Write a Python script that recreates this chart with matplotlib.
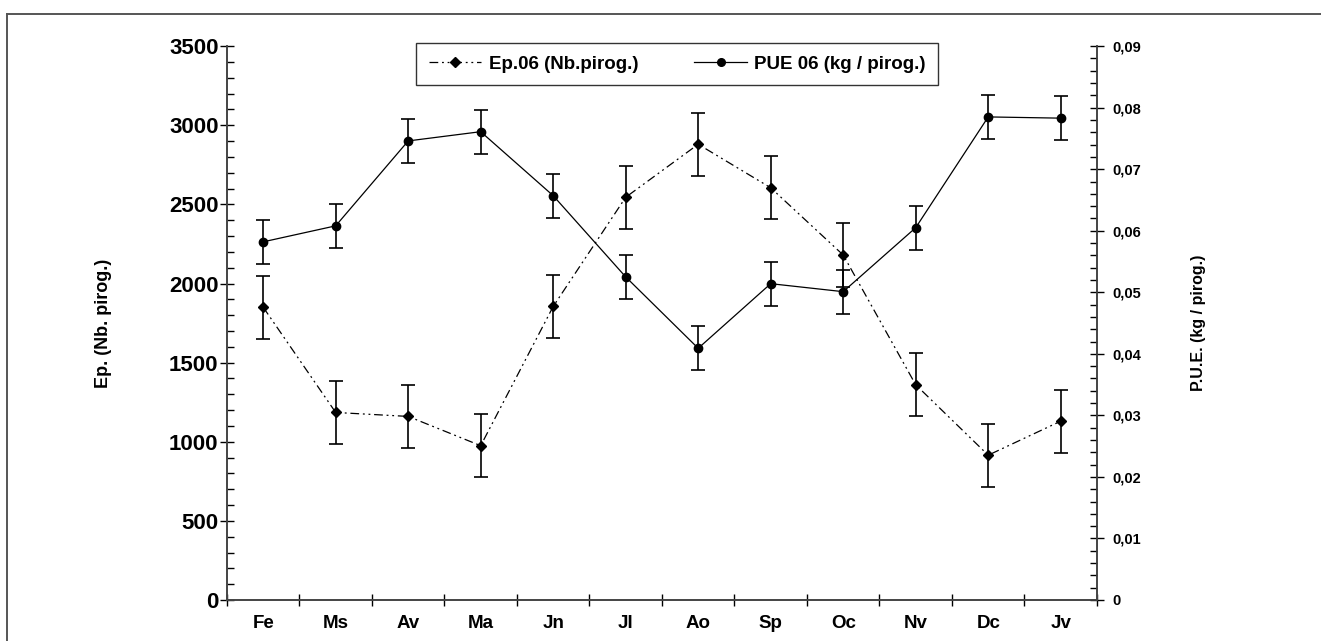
import matplotlib.pyplot as plt
import numpy as np
from matplotlib.ticker import MultipleLocator, FuncFormatter
from matplotlib.lines import Line2D

plt.rcParams.update({"font.family": "Liberation Sans", "font.weight": "bold"})

months = ["Fe", "Ms", "Av", "Ma", "Jn", "Jl", "Ao", "Sp", "Oc", "Nv", "Dc", "Jv"]
ep06 = [1850, 1185, 1160, 975, 1855, 2545, 2880, 2605, 2180, 1360, 915, 1130]
ep06_err = [200, 200, 200, 200, 200, 200, 200, 200, 200, 200, 200, 200]
pue06 = [0.0582, 0.0608, 0.0746, 0.0761, 0.0657, 0.0525, 0.0409, 0.0514, 0.0501, 0.0605, 0.0785, 0.0783]
pue06_err = [0.0036] * 12

x = np.arange(len(months))
ep_dash = (7, 3, 1.5, 3, 1.5, 3)

fig = plt.figure(figsize=(13.21, 6.41), dpi=100)
ax = fig.add_axes([0.1718, 0.064, 0.6586, 0.864])
ax2 = ax.twinx()

ax.errorbar(x, ep06, yerr=ep06_err, color="black", lw=0.9, dashes=ep_dash,
            marker="D", ms=5.5, capsize=5, elinewidth=1.2, capthick=1.2)
ax2.errorbar(x, pue06, yerr=pue06_err, color="black", lw=0.9, ls="-",
             marker="o", ms=6, capsize=5, elinewidth=1.2, capthick=1.2)

ax.set_xlim(-0.5, 11.5)
ax.set_ylim(0, 3500)
ax2.set_ylim(0, 0.09)

ax.set_xticks(np.arange(-0.5, 12, 1))
ax.set_xticklabels([])
ax.set_xticks(x, minor=True)
ax.set_xticklabels(months, minor=True, fontsize=13.5, fontweight="bold")
ax.tick_params(axis="x", which="major", direction="inout", length=8, width=1)
ax.tick_params(axis="x", which="minor", length=0, pad=11)

ax.yaxis.set_major_locator(MultipleLocator(500))
ax.yaxis.set_minor_locator(MultipleLocator(100))
ax.tick_params(axis="y", which="major", direction="inout", length=10, width=1, labelsize=16, pad=1)
ax.tick_params(axis="y", which="minor", direction="in", length=5, width=1)

ax2.yaxis.set_major_locator(MultipleLocator(0.01))
ax2.yaxis.set_minor_locator(MultipleLocator(0.002))
ax2.yaxis.set_major_formatter(FuncFormatter(lambda v, p: "0" if abs(v) < 1e-9 else ("%.2f" % v).replace(".", ",")))
ax2.tick_params(axis="y", which="major", direction="inout", length=10, width=1, labelsize=10.5, pad=6)
ax2.tick_params(axis="y", which="minor", direction="in", length=5, width=1)

for a in (ax, ax2):
    a.spines["top"].set_visible(False)
    for s in a.spines.values():
        s.set_color("#444444")
        s.set_linewidth(1.2)

ax.set_ylabel("Ep. (Nb. pirog.)", fontsize=13, fontweight="bold", labelpad=41)
ax2.set_ylabel("P.U.E. (kg / pirog.)", fontsize=11.5, fontweight="bold", labelpad=36)

handles = [
    Line2D([], [], color="black", lw=0.9, dashes=ep_dash, marker="D", ms=5),
    Line2D([], [], color="black", lw=0.9, ls="-", marker="o", ms=5.5),
]
labels = ["Ep.06 (Nb.pirog.)", "PUE 06 (kg / pirog.)"]
leg = ax.legend(handles, labels, loc="upper center", bbox_to_anchor=(0.5175, 1.022), ncol=2,
                frameon=True, fancybox=False, edgecolor="black", fontsize=13.5,
                handlelength=2.8, columnspacing=3.0, borderpad=0.65, handletextpad=0.4)
leg.get_frame().set_linewidth(1)
for t in leg.get_texts():
    t.set_fontweight("bold")

# outer frame
fig.add_artist(Line2D([7 / 1321, 1], [1 - 14 / 641, 1 - 14 / 641], color="#555555", lw=1.4))
fig.add_artist(Line2D([7 / 1321, 7 / 1321], [0, 1 - 14 / 641], color="#555555", lw=1.4))

fig.savefig("out.png", dpi=100)
